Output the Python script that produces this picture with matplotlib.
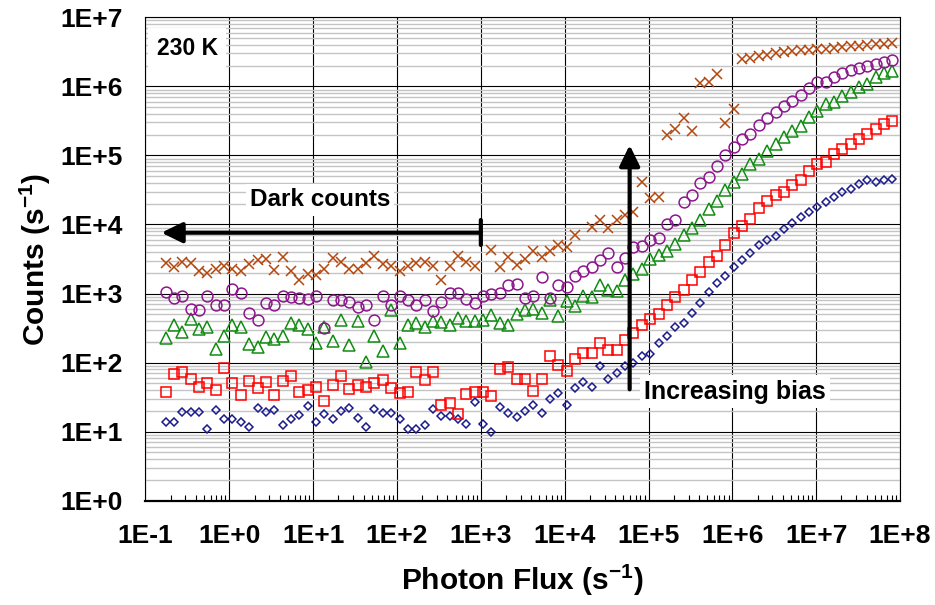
import numpy as np
import matplotlib.pyplot as plt
from matplotlib.ticker import LogLocator, FuncFormatter, NullFormatter

plt.rcParams['font.family'] = ['Liberation Sans', 'DejaVu Sans']
plt.rcParams['font.weight'] = 'bold'
plt.rcParams['mathtext.fontset'] = 'custom'
plt.rcParams['mathtext.rm'] = 'Liberation Sans:bold'
plt.rcParams['mathtext.default'] = 'rm'

# photon flux grid (s^-1), 88 points, ~0.1 decade apart
photon_flux = np.logspace(-0.76, 7.91, 88)

# log10 of counts (s^-1), lowest bias -> highest bias
log_diamonds = [
    1.145, 1.145, 1.29, 1.29, 1.29, 1.04, 1.32, 1.19, 1.19, 1.135, 1.07, 1.34, 1.29, 1.32, 1.10, 1.19, 1.24, 1.37, 1.145,
    1.25, 1.18, 1.30, 1.34, 1.20, 1.07, 1.33, 1.27, 1.27, 1.18, 1.04, 1.04, 1.10, 1.33, 1.22, 1.22, 1.18, 1.11, 1.43, 1.11,
    0.99, 1.35, 1.27, 1.21, 1.30, 1.39, 1.27, 1.47, 1.56, 1.39, 1.63, 1.72, 1.64, 1.95, 1.76, 1.845, 1.95, 2.00, 2.10, 2.13,
    2.28, 2.39, 2.51, 2.57, 2.72,
    2.86, 3.02, 3.15, 3.25, 3.38, 3.49, 3.58, 3.70, 3.78, 3.84, 3.94, 4.02, 4.11, 4.18, 4.26, 4.32, 4.40, 4.47, 4.52, 4.58,
    4.64, 4.61, 4.64, 4.66]

log_squares = [
    1.58, 1.835, 1.87, 1.76, 1.65, 1.70, 1.61, 1.92, 1.70, 1.53, 1.74, 1.63, 1.715, 1.53, 1.74, 1.81, 1.57, 1.60, 1.64,
    1.45, 1.68, 1.80, 1.62, 1.67, 1.64, 1.70, 1.75, 1.63, 1.555, 1.57, 1.86, 1.75, 1.86, 1.38, 1.41, 1.26, 1.54, 1.58, 1.57,
    1.51, 1.90, 1.94, 1.76, 1.76, 1.59, 1.76, 2.09, 1.97, 1.88, 2.05, 2.14, 2.14, 2.28, 2.185, 2.185, 2.33, 2.43, 2.55, 2.635,
    2.70, 2.83, 2.945, 3.05, 3.20,
    3.31, 3.46, 3.55, 3.705, 3.88, 3.975, 4.075, 4.245, 4.34, 4.42, 4.47, 4.575, 4.65, 4.77, 4.88, 4.90, 5.02, 5.095, 5.17,
    5.24, 5.31, 5.385, 5.46, 5.50]

log_triangles = [
    2.35, 2.545, 2.45, 2.63, 2.48, 2.52, 2.20, 2.39, 2.55, 2.52, 2.27, 2.22, 2.37, 2.34, 2.39, 2.58, 2.545, 2.49, 2.29,
    2.51, 2.31, 2.62, 2.26, 2.60, 2.01, 2.39, 2.165, 2.76, 2.28, 2.545, 2.57, 2.51, 2.60, 2.59, 2.545, 2.64, 2.60, 2.60, 2.62,
    2.69, 2.58, 2.54, 2.705, 2.76, 2.78, 2.72, 2.91, 2.67, 2.89, 2.82, 2.97, 2.95, 3.13, 3.05, 3.03, 3.20, 3.28, 3.36, 3.505,
    3.56, 3.62, 3.71, 3.85, 3.95,
    4.07, 4.22, 4.34, 4.495, 4.615, 4.735, 4.875, 4.955, 5.065, 5.17, 5.27, 5.35, 5.43, 5.55, 5.65, 5.745, 5.77, 5.86, 5.915,
    5.99, 6.04, 6.14, 6.19, 6.22]

log_circles = [
    3.02, 2.94, 2.97, 2.78, 2.76, 2.97, 2.83, 2.835, 3.06, 3.01, 2.72, 2.61, 2.87, 2.83, 2.97, 2.95, 2.94, 2.92, 2.965,
    2.50, 2.91, 2.91, 2.88, 2.80, 2.83, 2.61, 2.96, 2.835, 2.97, 2.90, 2.83, 2.91, 2.75, 2.88, 3.005, 3.005, 2.92, 2.86, 2.96,
    2.995, 3.005, 3.13, 3.14, 2.94, 2.96, 3.24, 2.94, 3.125, 3.09, 3.25, 3.32, 3.39, 3.48, 3.585, 3.38, 3.51, 3.67, 3.69, 3.775,
    3.80, 4.01, 4.07, 4.33, 4.42,
    4.595, 4.69, 4.845, 5.01, 5.12, 5.235, 5.305, 5.435, 5.54, 5.625, 5.71, 5.79, 5.875, 5.97, 6.06, 6.07, 6.13, 6.19, 6.23,
    6.26, 6.30, 6.33, 6.35, 6.385]

log_crosses = [
    3.44, 3.38, 3.46, 3.44, 3.32, 3.30, 3.36, 3.40, 3.35, 3.32, 3.43, 3.49, 3.50, 3.34, 3.53, 3.33, 3.20, 3.29, 3.27,
    3.36, 3.51, 3.45, 3.35, 3.36, 3.44, 3.54, 3.43, 3.40, 3.32, 3.395, 3.44, 3.45, 3.40, 3.20, 3.395, 3.55, 3.45, 3.395, np.nan,
    3.63, 3.39, 3.525, 3.41, 3.50, 3.61, 3.525, 3.62, 3.705, 3.67, 3.85, np.nan, 3.96, 4.07, 3.95, 4.065, 4.135, 4.175, 4.61, 4.39,
    4.40, 5.30, 5.385, 5.54, 5.35,
    6.05, 6.07, 6.185, 5.47, 5.67, 6.40, 6.415, 6.44, 6.46, 6.48, 6.50, 6.51, 6.52, 6.53, 6.535, 6.545, 6.555, 6.57, 6.58,
    6.59, 6.60, 6.615, 6.615, 6.63]

fig = plt.figure(figsize=(9.35, 6.05), dpi=100)
ax = fig.add_axes([0.1556, 0.1724, 0.8070, 0.7990])

mk = dict(linestyle='none', mfc='none', mew=1.1, zorder=3)
ax.plot(photon_flux, 10 ** np.array(log_diamonds), marker='D', ms=4.4, mec='#1a1a8c', **mk)
ax.plot(photon_flux, 10 ** np.array(log_squares), marker='s', ms=6.7, mec='#ff0000', **mk)
ax.plot(photon_flux, 10 ** np.array(log_triangles), marker='^', ms=8.3, mec='#138c13', **mk)
ax.plot(photon_flux, 10 ** np.array(log_circles), marker='o', ms=7.8, mec='#8c168c', **mk)
ax.plot(photon_flux, 10 ** np.array(log_crosses), marker='x', ms=7.2, mec='#b4470e', **mk)

ax.set_xscale('log')
ax.set_yscale('log')
ax.set_xlim(1e-1, 1e8)
ax.set_ylim(1e0, 1e7)

ax.xaxis.set_major_locator(LogLocator(base=10, numticks=20))
ax.yaxis.set_major_locator(LogLocator(base=10, numticks=20))
ax.xaxis.set_minor_locator(LogLocator(base=10, subs=np.arange(2, 10), numticks=20))
ax.yaxis.set_minor_locator(LogLocator(base=10, subs=np.arange(2, 10), numticks=20))
fmt = FuncFormatter(lambda v, p: '1E%+d' % round(np.log10(v)))
ax.xaxis.set_major_formatter(fmt)
ax.yaxis.set_major_formatter(fmt)
ax.xaxis.set_minor_formatter(NullFormatter())
ax.yaxis.set_minor_formatter(NullFormatter())

ax.grid(True, which='major', color='black', lw=0.8, zorder=1)
ax.grid(True, which='minor', axis='y', color='#c4c4c4', lw=1.0, zorder=0)
ax.grid(False, which='minor', axis='x')
ax.set_axisbelow(True)

ax.tick_params(axis='x', which='both', direction='in', labelsize=19, pad=17, top=False)
ax.tick_params(axis='x', which='minor', length=4.5, width=0.8)
ax.tick_params(axis='x', which='major', length=0)
ax.tick_params(axis='y', which='both', length=0, labelsize=19, pad=16.5)

for s in ['top', 'right', 'left']:
    ax.spines[s].set_linewidth(0.8)
ax.spines['bottom'].set_linewidth(1.6)

ax.set_xlabel('Photon Flux (s$^{-1}$)', fontsize=21.5, fontweight='bold')
ax.set_ylabel('Counts (s$^{-1}$)', fontsize=21.5, fontweight='bold')
ax.xaxis.set_label_coords(0.5, -0.128)
ax.yaxis.set_label_coords(-0.122, 0.5)

box = dict(facecolor='white', edgecolor='none', pad=3)
ax.text(10 ** -0.504, 10 ** 6.552, '230 K', fontsize=16.5, fontweight='bold',
        ha='center', va='center', bbox=dict(facecolor='white', edgecolor='none', pad=6), zorder=4)
ax.text(10 ** 1.08, 10 ** 4.355, 'Dark counts', fontsize=17.5, fontweight='bold',
        ha='center', va='center', bbox=box, zorder=4)
ax.text(10 ** 6.032, 10 ** 1.579, 'Increasing bias', fontsize=18, fontweight='bold',
        ha='center', va='center', bbox=box, zorder=4)

# dark counts arrow with end bar
arrow = dict(arrowstyle='-|>,head_length=0.45,head_width=0.22', lw=3, color='black',
             shrinkA=0, shrinkB=0, mutation_scale=28)
ax.annotate('', xy=(10 ** -0.81, 10 ** 3.881), xytext=(1e3, 10 ** 3.881), arrowprops=arrow, zorder=5)
ax.annotate('', xy=(1e3, 10 ** 4.065), xytext=(1e3, 10 ** 3.703),
            arrowprops=dict(arrowstyle='-', lw=3, color='black', shrinkA=0, shrinkB=0), zorder=5)
# increasing bias arrow
ax.annotate('', xy=(10 ** 4.775, 10 ** 5.15), xytext=(10 ** 4.775, 10 ** 1.613), arrowprops=arrow, zorder=5)

fig.savefig('out.png', dpi=100)
